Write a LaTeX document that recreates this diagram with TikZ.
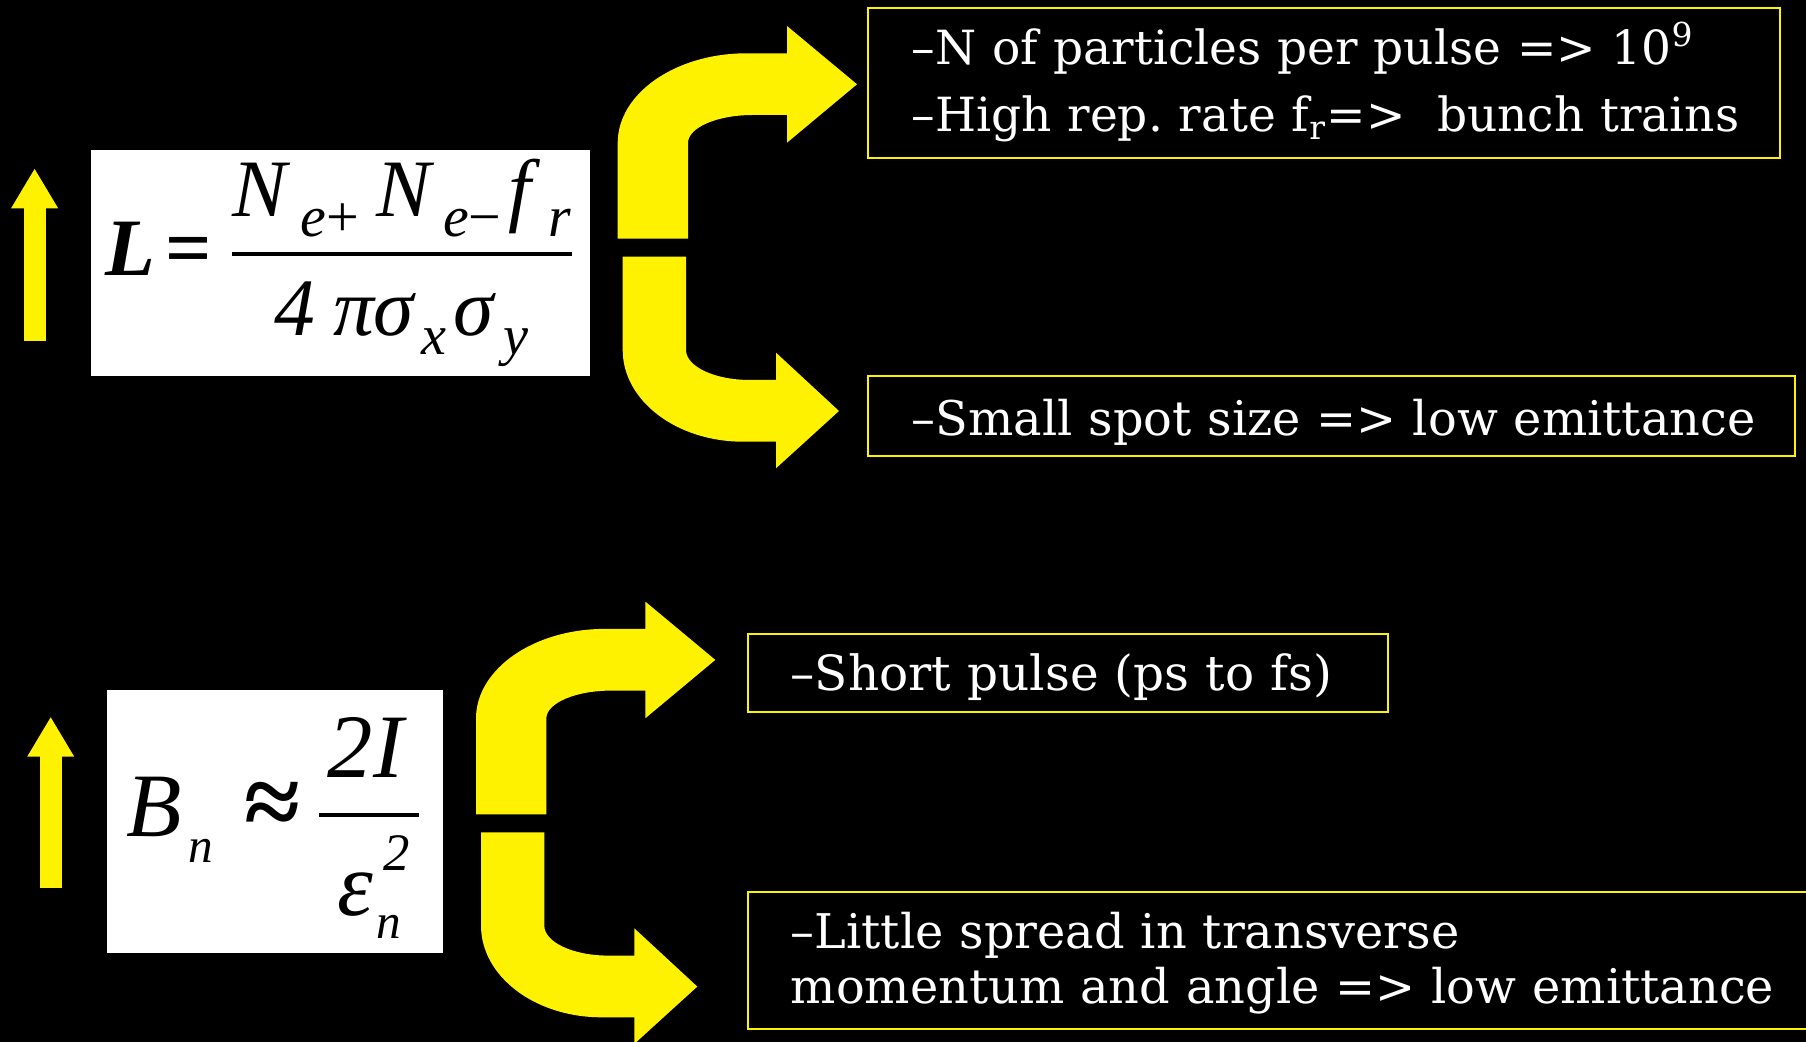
\documentclass[tikz,border=0pt]{standalone}
\usepackage{amsmath}
\usepackage{fontspec}
\setmainfont{DejaVu Serif}
\newfontfamily\eqfont{Liberation Serif}
\usetikzlibrary{arrows.meta}
\frenchspacing
\newcommand\mi[1]{\text{\eqfont\itshape #1}}
% small index at a given size, raised by a given amount
\newcommand\shiftsc[3]{\hbox{\fontsize{#1}{#1}\selectfont\eqfont\itshape\raisebox{#2}{#3}}}
\tikzset{
  framebox/.style={draw=yellow, line width=0.6pt, inner sep=0pt, anchor=north west},
  textline/.style={text=white, align=left, inner sep=0pt, anchor=base west, text width=11cm},
  eqbox/.style={fill=white, text=black, inner sep=0pt},
  bendarrow/.style={fill=yellow},
  uparrow/.style={yellow, line width=2.2mm, -{Triangle[length=4mm,width=4.4mm]}}
}
\begin{document}
\begin{tikzpicture}
  \fill[black] (0,0) rectangle (18.06,10.42);
  \clip (0,0) rectangle (18.06,10.42);
  % formulas
  \node[eqbox, minimum width=4.99cm, minimum height=2.26cm] (lumi) at (3.405,7.79)
    {\fontsize{23.2}{28}\selectfont $\displaystyle \text{\eqfont\bfseries\itshape L}\kern3pt\text{\eqfont\bfseries =}\kern4.5pt
      \frac{\mi{N}\kern4pt\shiftsc{16.5pt}{-5.7pt}{e\upshape +}\kern5pt\mi{N}\kern3.5pt\shiftsc{16.5pt}{-5.7pt}{e\upshape −}\kern2pt\mi{f}\kern5pt\shiftsc{16.5pt}{-5.7pt}{r}}
           {\mi{4}\kern5pt\mi{πσ}\kern2pt\shiftsc{16pt}{-5.4pt}{x}\kern2pt\mi{σ}\kern3pt\shiftsc{16pt}{-5.4pt}{y}}$};
  \node[eqbox, minimum width=3.365cm, minimum height=2.627cm, text height=1.47cm, text depth=1.157cm] (bright) at (2.748,2.207)
    {\fontsize{25.8}{31}\selectfont $\displaystyle \mi{B}\kern2pt\shiftsc{14pt}{-7.4pt}{n}\kern9pt\text{\eqfont\bfseries\fontsize{29}{29}\selectfont ≈}\kern4pt
      \frac{\kern2.5pt\mi{2I}\kern4.5pt}{\rule{0pt}{25pt}\mi{ε}\kern1pt\rlap{\smash{\shiftsc{15pt}{12.6pt}{\kern2pt 2}}}\shiftsc{14pt}{-6.5pt}{n}}$};
  % up arrows
  \draw[uparrow] (0.346,7.01) -- (0.346,8.737);
  \draw[uparrow] (0.507,1.54) -- (0.507,3.253);
  % bent arrows
  \foreach \dx/\dy in {6.177/8.033, 4.76/2.277}{\begin{scope}[shift={(\dx,\dy)}]
    \fill[bendarrow] (0,0) -- (0,0.957) arc[start angle=180,end angle=90,x radius=1.29,y radius=0.897]
      -- (1.693,1.854) -- (1.693,2.127) -- (2.393,1.544) -- (1.693,0.96) -- (1.693,1.237) -- (1.353,1.237)
      arc[start angle=90,end angle=180,x radius=0.65,y radius=0.28] -- (0.703,0) -- cycle;
    \fill[bendarrow] (0.05,-0.18) -- (0.683,-0.18) -- (0.683,-1.113) arc[start angle=180,end angle=270,x radius=0.64,y radius=0.30]
      -- (1.583,-1.413) -- (1.583,-1.14) -- (2.213,-1.723) -- (1.583,-2.296) -- (1.583,-2.03) -- (1.253,-2.03)
      arc[start angle=270,end angle=180,x radius=1.203,y radius=0.917] -- cycle;
  \end{scope}}
  % text boxes
  \node[framebox, minimum width=9.123cm, minimum height=1.5cm] (countbox) at (8.667,10.353) {};
  \node[framebox, minimum width=9.273cm, minimum height=0.8cm] (spotbox) at (8.667,6.67) {};
  \node[framebox, minimum width=6.402cm, minimum height=0.783cm] (shortbox) at (7.468,4.093) {};
  \node[framebox, minimum width=11cm, minimum height=1.37cm] (spreadbox) at (7.468,1.513) {};
  \node[textline, font=\fontsize{13.4}{18.97}\selectfont] (count) at (9.11,9.77)
    {–N of particles per pulse => 10\textsuperscript{9}\\–High rep. rate f\textsubscript{r}=>\ \ bunch trains};
  \node[textline, font=\fontsize{13.6}{16}\selectfont] (spot) at (9.11,6.06) {–Small spot size => low emittance};
  \node[textline, font=\fontsize{13.8}{16}\selectfont] (short) at (7.90,3.51) {–Short pulse (ps to fs)};
  \node[textline, font=\fontsize{13.6}{15.65}\selectfont] (spread) at (7.90,0.937)
    {–Little spread in transverse\\momentum and angle => low emittance};
\end{tikzpicture}
\end{document}
